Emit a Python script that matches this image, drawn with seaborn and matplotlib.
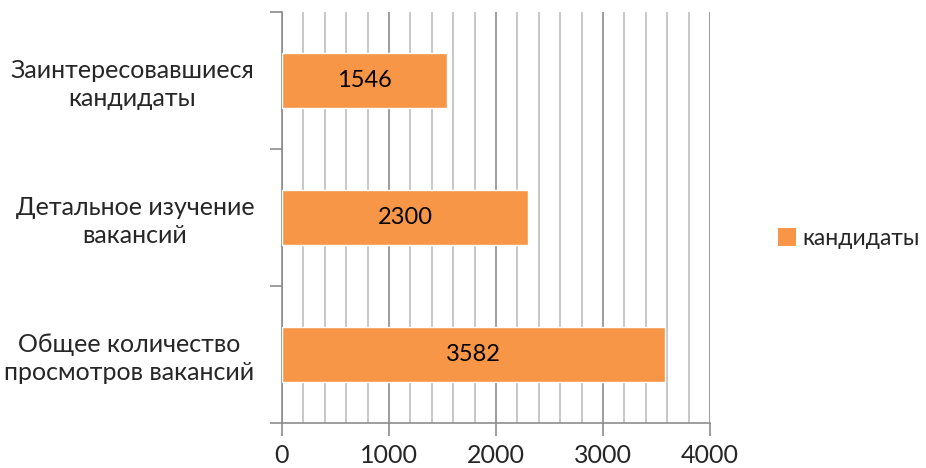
import pandas as pd
import matplotlib.pyplot as plt
import seaborn as sns
from matplotlib.ticker import MultipleLocator, FixedLocator
from matplotlib.patches import Patch

# Data
categories = ["Заинтересовавшиеся\nкандидаты",
              "Детальное изучение\nвакансий",
              "Общее количество\nпросмотров вакансий"]
values = [1546, 2300, 3582]
series_name = "кандидаты"
x_ticks = [0, 1000, 2000, 3000, 4000]

df = pd.DataFrame({"stage": categories, "count": values})

sns.set_style("white")
plt.rcParams['font.family'] = ['Lato', 'DejaVu Sans']

fig = plt.figure(figsize=(9.26, 4.68), dpi=100)
ax = fig.add_axes([0.3045, 0.0962, 0.4622, 0.8782])

bar_color = "#F79646"
sns.barplot(data=df, x="count", y="stage", color=bar_color, width=0.4,
            saturation=1, ax=ax, zorder=3)

# Value labels
for c in ax.containers:
    ax.bar_label(c, labels=[str(v) for v in values], label_type="center",
                 fontsize=17, color="black")

ax.set_xlim(0, 4000)
ax.set_ylim(2.5, -0.5)
ax.xaxis.set_major_locator(FixedLocator(x_ticks))
ax.xaxis.set_minor_locator(MultipleLocator(200))
ax.grid(which="minor", axis="x", color="#BEBEBE", linewidth=1.2, zorder=0)
ax.grid(which="major", axis="x", color="#8C8C8C", linewidth=1.2, zorder=0)
ax.set_axisbelow(True)

ax.set_xlabel("")
ax.set_ylabel("")

for s in ["top", "right"]:
    ax.spines[s].set_visible(False)
for s in ["left", "bottom"]:
    ax.spines[s].set_color("#8C8C8C")
    ax.spines[s].set_linewidth(1.2)

# category boundary ticks on y
ax.set_yticks([-0.5, 0.5, 1.5, 2.5], minor=True)
ax.tick_params(axis="y", which="both", left=True)
ax.tick_params(axis="x", which="both", bottom=True)
ax.tick_params(axis="y", which="minor", length=9, color="#8C8C8C", width=1.2, direction="out")
ax.tick_params(axis="y", which="major", length=0, pad=20, labelsize=18)
for lbl in ax.get_yticklabels():
    lbl.set_multialignment("center")
    lbl.set_linespacing(1.25)
ax.tick_params(axis="x", which="major", length=9, color="#8C8C8C", width=1.2,
               direction="out", labelsize=18, pad=6)
ax.tick_params(axis="x", which="minor", length=0)

handles = [Patch(facecolor=bar_color, edgecolor="none", label=series_name)]
fig.legend(handles=handles, loc="center left", bbox_to_anchor=(0.84, 0.49),
           frameon=False, fontsize=16.5, handlelength=0.8, handleheight=0.8,
           handletextpad=0.25, borderpad=0, borderaxespad=0)

fig.savefig("out.png", dpi=100)
